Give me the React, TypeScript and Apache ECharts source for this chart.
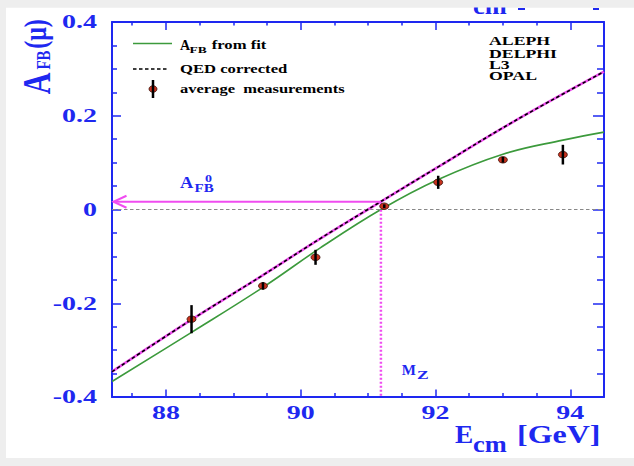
import React, { useEffect, useRef } from 'react';
import * as echarts from 'echarts';

// ---- axis ranges & ticks ----
const X_MIN = 87.2;
const X_MAX = 94.5;
const Y_MIN = -0.4;
const Y_MAX = 0.4;
const X_MAJOR_TICKS = [88, 90, 92, 94];
const X_TICK_LABELS = ['88', '90', '92', '94'];
const X_MINOR_TICKS = [87.5, 88.5, 89, 89.5, 90.5, 91, 91.5, 92.5, 93, 93.5];
const Y_TICKS = [-0.4, -0.2, 0, 0.2, 0.4];
const Y_TICK_LABELS = ['-0.4', '-0.2', '0', '0.2', '0.4'];

// ---- average measurements ----
const MEAS_E = [88.38, 89.44, 90.22, 91.24, 92.04, 93.0, 93.89];
const MEAS_A = [-0.234, -0.163, -0.102, 0.007, 0.058, 0.106, 0.117];
const MEAS_ERR = [0.03, 0.008, 0.016, 0.004, 0.014, 0.006, 0.021];

// ---- A_FB from fit ----
const FIT_E = [87.2, 88.38, 89.44, 90.29, 91.19, 92.04, 93.0, 93.89, 94.5];
const FIT_A = [-0.367, -0.262, -0.166, -0.082, 0.0, 0.064, 0.118, 0.148, 0.165];

// ---- QED corrected ----
const QED_E = [87.2, 88.38, 89.44, 90.29, 91.19, 92.04, 93.14, 94.5];
const QED_A = [-0.346, -0.235, -0.14, -0.062, 0.017, 0.091, 0.186, 0.294];

// ---- pole values ----
const MZ = 91.19;
const AFB0 = 0.0166;

const BLUE = '#1e28f0';
const GREEN = '#3c9a3c';
const MAGENTA = '#f04cf0';
const RED = '#c8321e';
const SERIF = '"Liberation Serif", "Times New Roman", serif';

function T(text: string, x: number, y: number, size: number, o: any = {}) {
  const align = o.align ?? 'left';
  return {
    type: 'text',
    x,
    y,
    scaleX: o.sx ?? 1,
    scaleY: o.sy ?? 1,
    rotation: o.rot ?? 0,
    z: o.z ?? 20,
    style: {
      text,
      fill: o.color ?? '#000',
      font: `bold ${size}px ${SERIF}`,
      align,
      textAlign: align,
      verticalAlign: 'middle',
      textVerticalAlign: 'middle',
    },
  };
}

function buildOption(): any {
  const tickStyle = { color: BLUE, width: 1.5 };
  const xBase = {
    type: 'value',
    min: X_MIN,
    max: X_MAX,
    splitLine: { show: false },
    axisLabel: { show: false },
  };
  const yBase = {
    type: 'value',
    min: Y_MIN,
    max: Y_MAX,
    interval: 0.2,
    splitLine: { show: false },
    minorSplitLine: { show: false },
    axisLabel: { show: false },
  };

  const graphics: any[] = [
    { type: 'rect', z: -100, shape: { x: 6, y: 7.5, width: 628, height: 450.5 }, style: { fill: '#ffffff' } },
    // x-axis title
    T('E', 455, 434.5, 26, { color: BLUE, sx: 1.05 }),
    T('cm', 473, 443.9, 24, { color: BLUE, sx: 1.1 }),
    T('[GeV]', 517, 434.5, 26, { color: BLUE, sx: 1.23 }),
    // remnant of the title of the figure above (cropped at top)
    T('cm', 473, 5.9, 24, { color: BLUE, sx: 1.1 }),
    { type: 'line', z: 20, shape: { x1: 518, y1: 9, x2: 525, y2: 9 }, style: { stroke: BLUE, lineWidth: 2 } },
    { type: 'line', z: 20, shape: { x1: 593, y1: 9, x2: 599, y2: 9 }, style: { stroke: BLUE, lineWidth: 2 } },
    { type: 'rect', z: 100, shape: { x: 0, y: 0, width: 634, height: 7.5 }, style: { fill: '#eeeeee' } },
    // y-axis title
    T('A', 37.5, 83.5, 30, { color: BLUE, rot: Math.PI / 2, sy: 1.3, align: 'center' }),
    T('FB', 43.5, 60, 15, { color: BLUE, rot: Math.PI / 2, sy: 1.3, align: 'center' }),
    T('(\u03bc)', 35, 34, 24, { color: BLUE, rot: Math.PI / 2, sy: 1.3, align: 'center' }),
    // legend
    { type: 'line', z: 20, shape: { x1: 133, y1: 43.5, x2: 172, y2: 43.5 }, style: { stroke: GREEN, lineWidth: 1.5 } },
    T('A', 180, 45, 14),
    T('FB', 189.5, 50, 9, { sx: 1.5 }),
    T('from fit', 211.7, 45, 13, { sx: 1.28 }),
    { type: 'line', z: 20, shape: { x1: 133, y1: 69, x2: 167, y2: 69 }, style: { stroke: '#000', lineWidth: 1.5, lineDash: [3.5, 2.5] } },
    T('QED corrected', 180, 69, 13, { sx: 1.28 }),
    { type: 'ellipse', z: 20, shape: { cx: 153, cy: 89, rx: 4, ry: 3.3 }, style: { fill: RED, stroke: '#3a1008', lineWidth: 0.8 } },
    { type: 'line', z: 21, shape: { x1: 153, y1: 80, x2: 153, y2: 98 }, style: { stroke: '#000', lineWidth: 2.5 } },
    T('average  measurements', 180, 89, 13, { sx: 1.27 }),
    // experiments
    T('ALEPH', 489, 41, 12.5, { sx: 1.42 }),
    T('DELPHI', 489, 53.5, 12.5, { sx: 1.42 }),
    T('L3', 489, 64.5, 12.5, { sx: 1.42 }),
    T('OPAL', 489, 76, 12.5, { sx: 1.42 }),
    // A_FB^0 label
    T('A', 180, 182.5, 17.5, { color: BLUE, sx: 1.05 }),
    T('FB', 194.5, 188, 12.5, { color: BLUE, sx: 1.2 }),
    T('0', 205, 178.3, 10, { color: BLUE, sx: 1.4 }),
    // M_Z label
    T('M', 401.7, 370, 15, { color: BLUE }),
    T('Z', 417, 374.8, 12.5, { color: BLUE, sx: 1.4 }),
  ];

  const labelFont = `bold 19px ${SERIF}`;

  return {
    animation: false,
    backgroundColor: '#eeeeee',
    grid: { left: 112, right: 30, top: 22, bottom: 69 },
    xAxis: [
      {
        ...xBase,
        position: 'bottom',
        axisLine: { show: true, onZero: false, lineStyle: { color: BLUE, width: 2 } },
        axisTick: { show: true, inside: true, length: 7.5, customValues: X_MAJOR_TICKS, lineStyle: tickStyle },
      },
      {
        ...xBase,
        position: 'bottom',
        axisLine: { show: false, onZero: false },
        axisTick: { show: true, inside: true, length: 4, customValues: X_MINOR_TICKS, lineStyle: tickStyle },
      },
      {
        ...xBase,
        position: 'top',
        axisLine: { show: true, onZero: false, lineStyle: { color: BLUE, width: 2 } },
        axisTick: { show: true, inside: true, length: 8, customValues: X_MAJOR_TICKS, lineStyle: tickStyle },
      },
      {
        ...xBase,
        position: 'top',
        axisLine: { show: false, onZero: false },
        axisTick: { show: true, inside: true, length: 3.5, customValues: X_MINOR_TICKS, lineStyle: tickStyle },
      },
    ],
    yAxis: [
      {
        ...yBase,
        position: 'left',
        axisLine: { show: true, onZero: false, lineStyle: { color: BLUE, width: 2 } },
        axisTick: { show: true, inside: true, length: 9, lineStyle: tickStyle },
        minorTick: { show: true, splitNumber: 4, length: 5, lineStyle: tickStyle },
      },
      {
        ...yBase,
        position: 'right',
        axisLine: { show: true, onZero: false, lineStyle: { color: BLUE, width: 2 } },
        axisTick: { show: true, inside: true, length: 11, lineStyle: tickStyle },
        minorTick: { show: true, splitNumber: 4, length: 7, lineStyle: tickStyle },
      },
    ],
    graphic: { elements: graphics },
    series: [
      {
        name: 'zero',
        type: 'line',
        data: [[X_MIN, 0], [X_MAX, 0]],
        symbol: 'none',
        lineStyle: { color: '#888888', width: 1, type: [3.5, 2.5] },
        z: 1,
        silent: true,
      },
      {
        name: 'A_FB from fit',
        type: 'line',
        data: FIT_E.map((e, i) => [e, FIT_A[i]]),
        symbol: 'none',
        smooth: 0.4,
        lineStyle: { color: GREEN, width: 1.6 },
        z: 2,
      },
      {
        name: 'QED corrected (magenta)',
        type: 'line',
        data: QED_E.map((e, i) => [e, QED_A[i]]),
        symbol: 'none',
        smooth: 0.4,
        lineStyle: { color: MAGENTA, width: 2.6 },
        z: 3,
      },
      {
        name: 'QED corrected',
        type: 'line',
        data: QED_E.map((e, i) => [e, QED_A[i]]),
        symbol: 'none',
        smooth: 0.4,
        lineStyle: { color: '#000000', width: 1.6, type: [3.5, 2.5] },
        z: 4,
      },
      {
        name: 'pole',
        type: 'custom',
        clip: false,
        z: 5,
        data: [[MZ, AFB0]],
        renderItem: (params: any, api: any) => {
          const p = api.coord([api.value(0), api.value(1)]);
          const l = api.coord([X_MIN, api.value(1)]);
          const b = api.coord([api.value(0), Y_MIN]);
          const tipX = l[0] + 1.5;
          return {
            type: 'group',
            children: [
              { type: 'line', shape: { x1: p[0], y1: p[1], x2: tipX, y2: l[1] }, style: { stroke: MAGENTA, lineWidth: 2 } },
              {
                type: 'polyline',
                shape: { points: [[tipX + 13, l[1] - 6], [tipX, l[1]], [tipX + 13, l[1] + 6]] },
                style: { stroke: MAGENTA, lineWidth: 2, fill: 'none' },
              },
              { type: 'line', shape: { x1: p[0], y1: p[1], x2: b[0], y2: b[1] }, style: { stroke: MAGENTA, lineWidth: 2.5, lineDash: [2, 2] } },
            ],
          };
        },
      },
      {
        name: 'average measurements',
        type: 'scatter',
        data: MEAS_E.map((e, i) => [e, MEAS_A[i]]),
        symbol: 'circle',
        symbolSize: [9, 6.5],
        itemStyle: { color: RED, borderColor: '#3a1008', borderWidth: 0.8, opacity: 1 },
        z: 6,
      },
      {
        name: 'errors',
        type: 'custom',
        z: 7,
        data: MEAS_E.map((e, i) => [e, MEAS_A[i], MEAS_ERR[i]]),
        renderItem: (params: any, api: any) => {
          const x = api.value(0);
          const y = api.value(1);
          const e = api.value(2);
          const p1 = api.coord([x, y - e]);
          const p2 = api.coord([x, y + e]);
          return { type: 'line', shape: { x1: p1[0], y1: p1[1], x2: p2[0], y2: p2[1] }, style: { stroke: '#000', lineWidth: 2.5 } };
        },
      },
      {
        name: 'y labels',
        type: 'custom',
        clip: false,
        z: 8,
        data: Y_TICKS.map((v) => [X_MIN, v]),
        renderItem: (params: any, api: any) => {
          const p = api.coord([api.value(0), api.value(1)]);
          return {
            type: 'text',
            x: p[0] - 15,
            y: p[1],
            scaleX: 1.47,
            style: {
              text: Y_TICK_LABELS[params.dataIndex],
              font: labelFont,
              fill: BLUE,
              align: 'right',
              textAlign: 'right',
              verticalAlign: 'middle',
              textVerticalAlign: 'middle',
            },
          };
        },
      },
      {
        name: 'x labels',
        type: 'custom',
        clip: false,
        z: 8,
        data: X_MAJOR_TICKS.map((v) => [v, Y_MIN]),
        renderItem: (params: any, api: any) => {
          const p = api.coord([api.value(0), api.value(1)]);
          return {
            type: 'text',
            x: p[0],
            y: p[1] + 15.5,
            scaleX: 1.47,
            style: {
              text: X_TICK_LABELS[params.dataIndex],
              font: labelFont,
              fill: BLUE,
              align: 'center',
              textAlign: 'center',
              verticalAlign: 'middle',
              textVerticalAlign: 'middle',
            },
          };
        },
      },
    ],
  };
}

export default function App() {
  const ref = useRef<HTMLDivElement>(null);
  useEffect(() => {
    if (!ref.current) return;
    const chart = echarts.init(ref.current, null, { renderer: 'svg' });
    chart.setOption(buildOption());
    return () => chart.dispose();
  }, []);
  return <div ref={ref} style={{ position: 'fixed', left: 0, top: 0, width: 634, height: 466 }} />;
}
